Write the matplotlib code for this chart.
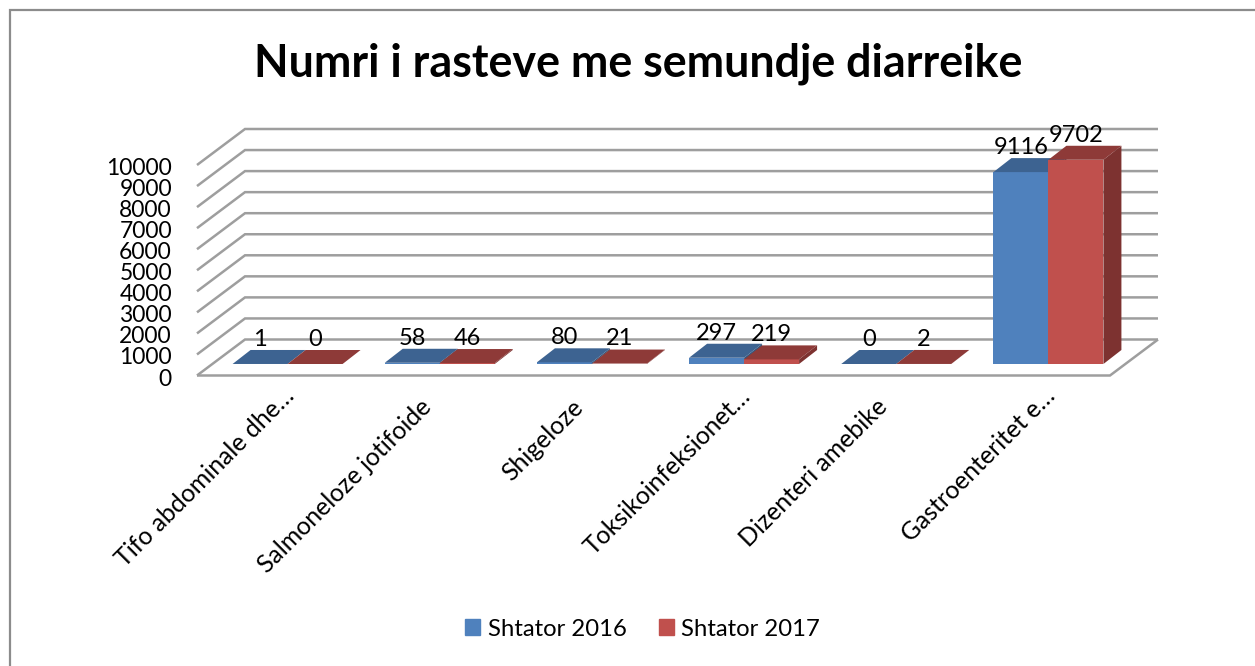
import numpy as np
import matplotlib
matplotlib.use('Agg')
import matplotlib.pyplot as plt
from matplotlib.lines import Line2D
from matplotlib.patches import Polygon, Patch
from matplotlib.transforms import ScaledTranslation

categories = ['Tifo abdominale dhe…', 'Salmoneloze jotifoide', 'Shigeloze',
              'Toksikoinfeksionet…', 'Dizenteri amebike', 'Gastroenteritet e…']
shtator_2016 = [1, 58, 80, 297, 0, 9116]
shtator_2017 = [0, 46, 21, 219, 2, 9702]
series_names = ['Shtator 2016', 'Shtator 2017']
y_ticks = [0, 1000, 2000, 3000, 4000, 5000, 6000, 7000, 8000, 9000, 10000]

blue = ['#4f81bd', '#3d6391', '#35587f']
red = ['#c0504d', '#8e3a38', '#7d3230']
grid_col = '#9e9e9e'
W, H = 1255, 666

plt.rcParams['font.family'] = ['Lato', 'DejaVu Sans']

fig = plt.figure(figsize=(W / 100, H / 100), dpi=100)
# chart frame, only left and top edges are in the crop
fig.add_artist(Line2D([10 / W, 10 / W, 1], [0, 1 - 10 / H, 1 - 10 / H],
                      color='#8c8c8c', lw=1.6, solid_joinstyle='miter'))

# front plane of the fake 3d box, in pixels of the picture
left, right, bottom, top = 197, 1110, 375.5, 165
ax = fig.add_axes([left / W, 1 - bottom / H, (right - left) / W, (bottom - top) / H])
ax.set_xlim(0, 6)
ax.set_ylim(0, 10000)
ax.patch.set_visible(False)
for s in ax.spines.values():
    s.set_visible(False)

px_x = 6 / (right - left)
px_y = 10000 / (bottom - top)
# wall depth, bar depth, bar inset from the front of the floor
wall_dx, wall_dy = 48 * px_x, 36 * px_y
bar_dx, bar_dy = 18 * px_x, 14 * px_y
in_dx, in_dy = 14.5 * px_x, 11.5 * px_y
bar_w = 55 * px_x

for t in y_ticks:
    ax.plot([0, wall_dx, 6 + wall_dx], [t, t + wall_dy, t + wall_dy], color=grid_col, lw=1.8,
            clip_on=False, zorder=1, solid_joinstyle='miter', solid_capstyle='butt')
ax.plot([0, 6, 6 + wall_dx], [0, 0, wall_dy], color=grid_col, lw=1.8, clip_on=False, zorder=1,
        solid_joinstyle='miter', solid_capstyle='butt')

for off, vals, cols in [(-bar_w, shtator_2016, blue), (0, shtator_2017, red)]:
    z = 3 if off == 0 else 2
    for i, v in enumerate(vals):
        x0 = i + 0.5 + in_dx + off
        x1 = x0 + bar_w
        y0 = in_dy
        y1 = in_dy + v
        ax.bar(x0, v, bar_w, bottom=y0, align='edge', color=cols[0], clip_on=False, zorder=z)
        ax.add_patch(Polygon([(x0, y1), (x1, y1), (x1 + bar_dx, y1 + bar_dy), (x0 + bar_dx, y1 + bar_dy)],
                             fc=cols[1], ec='none', clip_on=False, zorder=z))
        ax.add_patch(Polygon([(x1, y0), (x1 + bar_dx, y0 + bar_dy), (x1 + bar_dx, y1 + bar_dy), (x1, y1)],
                             fc=cols[2], ec='none', clip_on=False, zorder=z))
        ax.annotate(str(v), (x0 + bar_w / 2, y1), xytext=(0, 17.7), textcoords='offset points',
                    ha='center', va='center', fontsize=17, color='black', zorder=5,
                    annotation_clip=False)

ax.set_yticks(y_ticks)
ax.set_yticklabels([str(t) for t in y_ticks], fontsize=16.5, color='black')
ax.set_xticks(np.arange(6) + 0.5)
ax.set_xticklabels(categories, rotation=45, ha='right', rotation_mode='anchor', fontsize=17.9)
ax.tick_params(axis='y', length=0, pad=18)
ax.tick_params(axis='x', length=0, pad=17)

for lab in ax.get_yticklabels():
    lab.set_transform(lab.get_transform() + ScaledTranslation(0, -1.5 / 100, fig.dpi_scale_trans))
# truncated labels sit higher than the full ones in the original
for lab, name in zip(ax.get_xticklabels(), categories):
    if name.endswith('…'):
        shift = ScaledTranslation(9 / 100, 15 / 100, fig.dpi_scale_trans)
    else:
        shift = ScaledTranslation(-6 / 100, 4 / 100, fig.dpi_scale_trans)
    lab.set_transform(lab.get_transform() + shift)

fig.text(638 / W, 1 - 64 / H, 'Numri i rasteve me semundje diarreike', ha='center', va='center',
         fontsize=32.3, fontweight='bold', color='black')

handles = [Patch(color=blue[0]), Patch(color=red[0])]
fig.legend(handles, series_names, loc='center', bbox_to_anchor=(642.5 / W, 1 - 629 / H), ncol=2,
           frameon=False, fontsize=17.2, handlelength=0.63, handleheight=0.63, handletextpad=0.3,
           columnspacing=1.34, borderpad=0)

fig.savefig('out.png', dpi=100)
